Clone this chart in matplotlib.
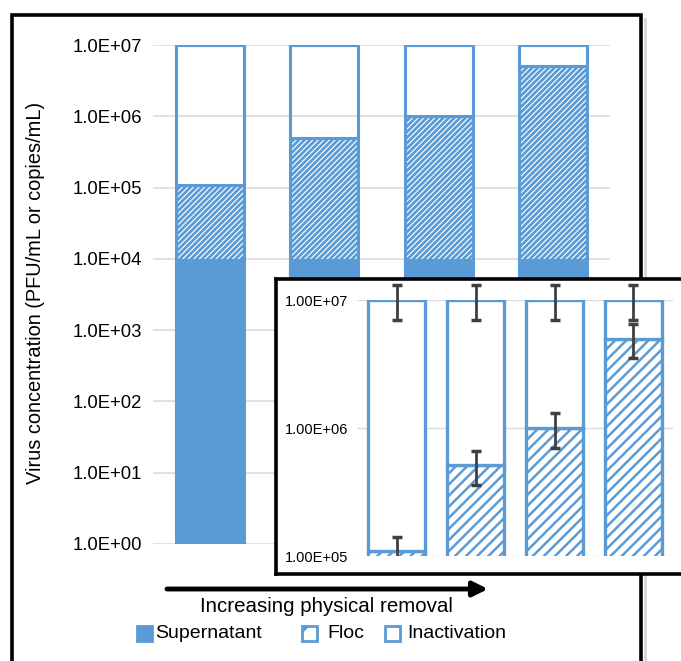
import matplotlib
matplotlib.use('Agg')
import matplotlib.pyplot as plt
from matplotlib.patches import Rectangle
from matplotlib.lines import Line2D

plt.rcParams['font.family'] = ['Liberation Sans', 'DejaVu Sans']

# valores (topo acumulado de cada segmento, PFU/mL ou cópias/mL)
grupos = [0, 1, 2, 3]
sobrenadante = [1e4, 1e4, 1e4, 1e4]
floco = [1.1e5, 5e5, 1e6, 5e6]
total = [1e7, 1e7, 1e7, 1e7]

# detalhe (inset) com barras de erro
floco_det = [1.1e5, 5.1e5, 1.0e6, 5.0e6]
erro_floco = [3e4, 1.5e5, 3e5, 1.5e6]
erro_total = [3e6, 3e6, 3e6, 3e6]

ticks_principal = [1e0, 1e1, 1e2, 1e3, 1e4, 1e5, 1e6, 1e7]
rotulos_principal = ['1.0E+00', '1.0E+01', '1.0E+02', '1.0E+03',
                     '1.0E+04', '1.0E+05', '1.0E+06', '1.0E+07']
ticks_det = [1e5, 1e6, 1e7]
rotulos_det = ['1.00E+05', '1.00E+06', '1.00E+07']

azul = '#5b9bd5'
cinza_grade = '#dcdcdc'

W, H = 681, 661
fig = plt.figure(figsize=(W / 100, H / 100), dpi=100)


def px(x0, y0, x1, y1):
    # caixa em pixels (origem no topo) -> fração da figura
    return [x0 / W, (H - y1) / H, (x1 - x0) / W, (y1 - y0) / H]


# moldura principal (com leve sombra à direita)
fig.add_artist(Line2D([644.5 / W, 644.5 / W], [-0.05, (H - 19) / H],
                      transform=fig.transFigure, color='#d6d6d6', lw=2, zorder=1))
fig.add_artist(Rectangle((12 / W, -0.05), (641 - 12) / W, (H - 15) / H + 0.05,
                         transform=fig.transFigure, fill=False,
                         edgecolor='black', lw=2.6, zorder=1.1))

# gráfico principal
ax = fig.add_axes(px(153, 45, 610, 544))
ax.set_yscale('log')
plt.rcParams['hatch.linewidth'] = 2.0
ax.bar(grupos, [s - 1 for s in sobrenadante], bottom=1, width=0.595,
       color=azul, edgecolor=azul, lw=1.5)
ax.bar(grupos, [f - s for f, s in zip(floco, sobrenadante)], bottom=sobrenadante,
       width=0.595, color='white', edgecolor=azul, hatch='//////', lw=0)
ax.bar(grupos, [t - f for t, f in zip(total, floco)], bottom=floco, width=0.595,
       color='none', edgecolor=azul, lw=2.2)
ax.bar(grupos, [t - 1 for t in total], bottom=1, width=0.595,
       color='none', edgecolor=azul, lw=2.2)
ax.set_xlim(-0.5, 3.5)
ax.set_ylim(1, 1e7)
ax.set_yticks(ticks_principal)
ax.set_yticklabels(rotulos_principal, fontsize=13.3)
ax.minorticks_off()
ax.set_xticks([])
ax.tick_params(axis='y', length=0, pad=8)
ax.grid(axis='y', color=cinza_grade, lw=1.2)
ax.set_axisbelow(True)
for s in ax.spines.values():
    s.set_visible(False)
ax.set_ylabel('Virus concentration (PFU/mL or copies/mL)', fontsize=14.4)
ax.yaxis.set_label_coords(45 / W, (H - 293) / H, transform=fig.transFigure)

# seta e texto
ax.annotate('', xy=(488, H - 589), xytext=(167, H - 589), xycoords='figure pixels',
            arrowprops=dict(arrowstyle='-|>', lw=3.5, color='black',
                            mutation_scale=22, shrinkA=0, shrinkB=0))
fig.text(326 / W, (H - 607) / H, 'Increasing physical removal', fontsize=14.8,
         ha='center', va='center')


# legenda manual
def quadrado(x, cor, hatch=None):
    fig.add_artist(Rectangle((x / W, (H - 641) / H), 15 / W, 15 / H,
                             transform=fig.transFigure, facecolor=cor,
                             edgecolor=azul, lw=2, hatch=hatch))


plt.rcParams['hatch.linewidth'] = 2.5
quadrado(137, azul)
quadrado(302, 'white', hatch='/')
quadrado(385, 'white')
for x, txt in [(155, 'Supernatant'), (327, 'Floc'), (407, 'Inactivation')]:
    fig.text(x / W, (H - 634) / H, txt, fontsize=14, ha='left', va='center')

# caixa do detalhe
caixa = fig.add_axes(px(276, 279, 700, 574), zorder=5)
caixa.set_xticks([])
caixa.set_yticks([])
for s in caixa.spines.values():
    s.set_linewidth(2.6)
    s.set_color('black')

plt.rcParams['hatch.linewidth'] = 1.8
det = fig.add_axes(px(357, 300, 673, 556), zorder=6)
det.patch.set_alpha(0)
det.set_yscale('log')
det.bar(grupos, [f - 1 for f in floco_det], bottom=1, width=0.71,
        color='white', edgecolor=azul, hatch='///', lw=2.4)
det.bar(grupos, [t - f for t, f in zip(total, floco_det)], bottom=floco_det, width=0.71,
        color='white', edgecolor=azul, lw=2.4)
det.errorbar(grupos, total, yerr=erro_total, fmt='none', ecolor='#404040',
             elinewidth=2, capsize=3.5, capthick=2.5, zorder=4, clip_on=False)
det.errorbar(grupos, floco_det, yerr=erro_floco, fmt='none', ecolor='#404040',
             elinewidth=2, capsize=3.5, capthick=2.5, zorder=4)
det.set_xlim(-0.5, 3.5)
det.set_ylim(1e5, 1e7)
det.set_yticks(ticks_det)
det.set_yticklabels(rotulos_det, fontsize=10.5)
det.minorticks_off()
det.set_xticks([])
det.tick_params(axis='y', length=0, pad=6)
det.grid(axis='y', color=cinza_grade, lw=1)
det.set_axisbelow(True)
for s in det.spines.values():
    s.set_visible(False)

fig.savefig('out.png', dpi=100)
